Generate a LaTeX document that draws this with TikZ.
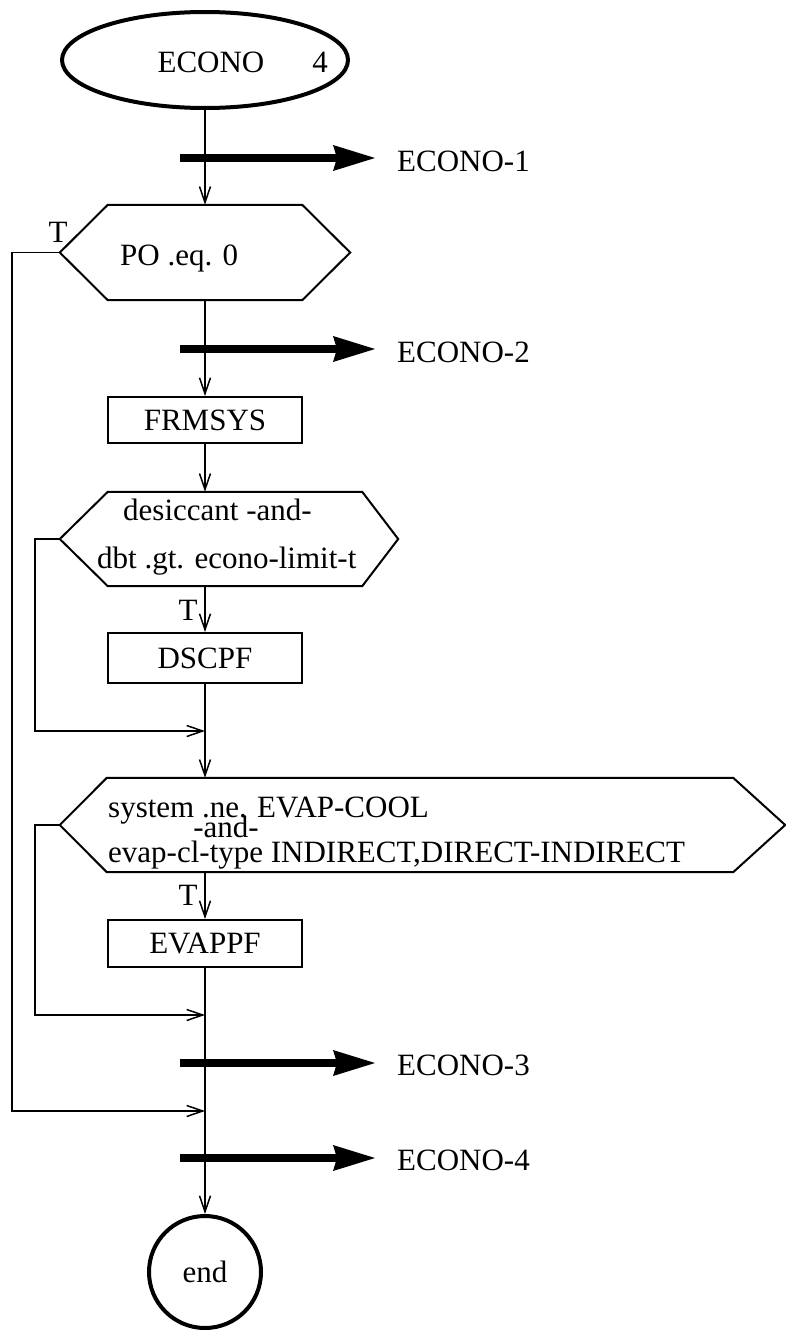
\documentclass[tikz,border=0pt]{standalone}
\usepackage{fontspec}
\setmainfont{Liberation Serif}
\usetikzlibrary{arrows.meta,calc,shapes.geometric}
\newcommand\dgfont{\fontsize{31}{25}\selectfont}
\tikzset{
  fl/.style={line width=1.5pt},
  flow/.style={fl,-{Straight Barb[length=16pt,width=11pt,line width=1.5pt]}},
  fat/.style={line width=7.5pt,-{Stealth[length=42pt,width=26pt,inset=4pt,line width=0pt]}},
  txt/.style={inner sep=0pt,font=\dgfont},
  boxnode/.style={draw,line width=2pt,minimum width=194pt,minimum height=47pt,inner sep=0pt,font=\dgfont},
  hexbody/.style={inner sep=0pt},
  hexline/.style={line width=2pt,line join=miter},
}
\begin{document}
\begin{tikzpicture}[x=1pt,y=-1pt]
\useasboundingbox (0,0) rectangle (786,1338);
% start
\node[draw,ellipse,line width=4pt,minimum width=286pt,minimum height=96pt,inner sep=0pt] (st) at (205,60) {};
\node[txt,anchor=base] (stA) at (211,73) {ECONO};
\node[txt,anchor=base] (stB) at (320,73) {4};
% decision 1
\node[hexbody,minimum width=194pt,minimum height=95pt] (h1) at (205,252.5) {};
\draw[hexline] (h1.north west) -- (h1.north east) -- ($(h1.east)+(48,0)$) -- (h1.south east) -- (h1.south west) -- ($(h1.west)+(-48,0)$) -- cycle;
\coordinate (h1l) at ($(h1.west)+(-48,0)$);
\node[txt,anchor=base west] (h1t) at (120,265) {PO .eq. 0};
\node[txt,anchor=base] (T1) at (58,242) {T};
% FRMSYS
\node[boxnode,minimum height=46pt] (frm) at (205,420) {FRMSYS};
% decision 2
\node[hexbody,minimum width=254pt,minimum height=94pt] (h2) at (235,539) {};
\draw[hexline] (h2.north west) -- (h2.north east) -- ($(h2.east)+(36,0)$) -- (h2.south east) -- (h2.south west) -- ($(h2.west)+(-48,0)$) -- cycle;
\coordinate (h2l) at ($(h2.west)+(-48,0)$);
\node[txt,anchor=base west] (h2a) at (123,520) {desiccant -and-};
\node[txt,anchor=base west] (h2b) at (97,568) {dbt .gt. econo-limit-t};
\node[txt,anchor=base] (T2) at (188,620) {T};
% DSCPF
\node[boxnode,minimum height=50pt] (dsc) at (205,658) {DSCPF};
% decision 3
\node[hexbody,minimum width=626pt,minimum height=94pt] (h3) at (420,825) {};
\draw[hexline] (h3.north west) -- (h3.north east) -- ($(h3.east)+(52,0)$) -- (h3.south east) -- (h3.south west) -- ($(h3.west)+(-47,0)$) -- cycle;
\coordinate (h3l) at ($(h3.west)+(-47,0)$);
\node[txt,anchor=base west] (h3a) at (108,817) {system .ne. EVAP-COOL};
\node[txt,anchor=base] (h3b) at (226,837) {-and-};
\node[txt,anchor=base west] (h3c) at (108,862) {evap-cl-type INDIRECT,DIRECT-INDIRECT};
\node[txt,anchor=base] (T3) at (188,905) {T};
% EVAPPF
\node[boxnode] (evp) at (205,943.5) {EVAPPF};
% end
\node[draw,circle,line width=4pt,minimum size=112pt,inner sep=0pt,font=\dgfont] (fin) at (205,1272) {end};
% merge points
\coordinate (m1) at (205,731);
\coordinate (m2) at (205,1015);
\coordinate (m3) at (205,1111);
% main flow
\draw[flow] (st.south) -- (st.south |- h1.north);
\draw[flow] (st.south |- h1.south) -- (frm.north);
\draw[flow] (frm.south) -- (st.south |- h2.north);
\draw[flow] (st.south |- h2.south) -- (dsc.north);
\draw[flow] (dsc.south) -- (st.south |- h3.north);
\draw[flow] (st.south |- h3.south) -- (evp.north);
\draw[flow] (evp.south) -- (fin.north);
% branches
\draw[flow] (h1l) -- ++(-48,0) |- (m3);
\draw[flow] (h2l) -- ++(-25,0) |- (m1);
\draw[flow] (h3l) -- ++(-25,0) |- (m2);
% connectors off page
\node[txt,anchor=base west] (e1) at (397,171) {ECONO-1};
\node[txt,anchor=base west] (e2) at (397,362) {ECONO-2};
\node[txt,anchor=base west] (e3) at (397,1075) {ECONO-3};
\node[txt,anchor=base west] (e4) at (397,1170) {ECONO-4};
\coordinate (a1) at (180,158);
\coordinate (a2) at (180,349);
\coordinate (a3) at (180,1063);
\coordinate (a4) at (180,1158);
\draw[fat] (a1) -- ($(a1 -| e1.west)+(-22,0)$);
\draw[fat] (a2) -- ($(a2 -| e2.west)+(-22,0)$);
\draw[fat] (a3) -- ($(a3 -| e3.west)+(-22,0)$);
\draw[fat] (a4) -- ($(a4 -| e4.west)+(-22,0)$);
\end{tikzpicture}
\end{document}
